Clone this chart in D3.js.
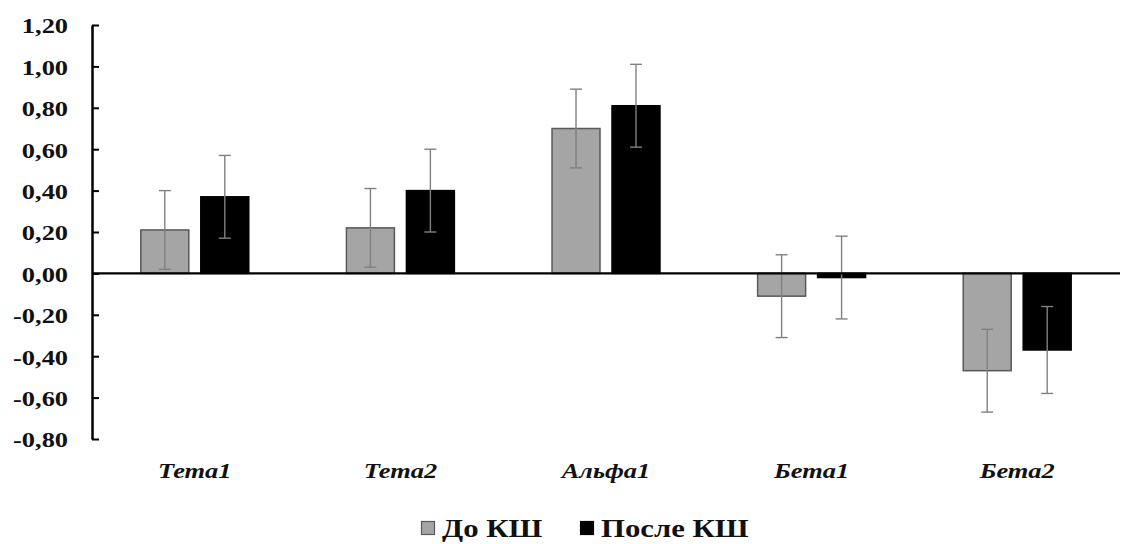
<!DOCTYPE html>
<html>
<head>
<meta charset="utf-8">
<script src="https://cdn.jsdelivr.net/npm/d3@7"></script>
<style>
  html, body { margin: 0; padding: 0; background: #fff; }
  svg { display: block; }
</style>
</head>
<body>
<svg id="chart" width="1131" height="544"></svg>
<script>
// Categories, series and values
const categories = ["Тета1", "Тета2", "Альфа1", "Бета1", "Бета2"];
const seriesNames = ["До КШ", "После КШ"];
const before = [0.21, 0.22, 0.70, -0.11, -0.47];
const after = [0.37, 0.40, 0.81, -0.02, -0.37];
const beforeErr = [0.19, 0.19, 0.19, 0.20, 0.20];
const afterErr = [0.20, 0.20, 0.20, 0.20, 0.21];
const yTicks = [-0.8, -0.6, -0.4, -0.2, 0, 0.2, 0.4, 0.6, 0.8, 1.0, 1.2];

const fills = ["#a5a5a5", "#000000"];
const strokes = ["#595959", "#000000"];
const stretch = 1.2; // horizontal stretch of the serif text

const svg = d3.select("#chart");
const plotLeft = 92, plotRight = 1120, plotTop = 25, plotBottom = 439;

const x0 = d3.scaleBand().domain(categories).range([plotLeft, plotRight])
  .paddingInner(0.475).paddingOuter(0.2375);
const x1 = d3.scaleBand().domain(seriesNames).range([0, x0.bandwidth()])
  .paddingInner(0.2);
const y = d3.scaleLinear().domain([-0.8, 1.2]).range([plotBottom, plotTop]);

const rows = categories.map((c, i) => ({
  cat: c,
  vals: [
    { s: seriesNames[0], v: before[i], e: beforeErr[i], k: 0 },
    { s: seriesNames[1], v: after[i], e: afterErr[i], k: 1 }
  ]
}));

// Bars
const groups = svg.append("g").selectAll("g").data(rows).join("g")
  .attr("transform", d => `translate(${x0(d.cat)},0)`);

groups.selectAll("rect").data(d => d.vals).join("rect")
  .attr("x", d => x1(d.s))
  .attr("width", x1.bandwidth())
  .attr("y", d => y(Math.max(0, d.v)))
  .attr("height", d => Math.abs(y(d.v) - y(0)))
  .attr("fill", d => fills[d.k])
  .attr("stroke", d => strokes[d.k])
  .attr("stroke-width", 1.5);

// Y axis
const yAxis = d3.axisLeft(y).tickValues(yTicks)
  .tickFormat(d => d3.format(".2f")(d).replace(".", ",").replace("−", "-"))
  .tickSizeInner(-7).tickSizeOuter(0).tickPadding(0);

const ya = svg.append("g").attr("transform", `translate(${plotLeft},0)`).call(yAxis);
ya.select(".domain").attr("stroke", "#000").attr("stroke-width", 2.5);
ya.selectAll(".tick line").attr("stroke", "#000").attr("stroke-width", 2);
ya.selectAll(".tick text")
  .attr("x", -24 / stretch)
  .attr("dy", "0.36em")
  .attr("transform", `scale(${stretch},1)`)
  .attr("font-family", "'Liberation Serif', 'Times New Roman', serif")
  .attr("font-weight", "bold")
  .attr("font-size", 22)
  .attr("fill", "#111");

// Zero baseline
svg.append("line")
  .attr("x1", plotLeft).attr("x2", plotRight)
  .attr("y1", y(0)).attr("y2", y(0))
  .attr("stroke", "#000").attr("stroke-width", 2.2);

// Error bars
const eb = groups.selectAll("g.err").data(d => d.vals).join("g")
  .attr("class", "err")
  .attr("stroke", "#808080").attr("stroke-width", 1.4);
const cap = 6;
eb.append("line")
  .attr("x1", d => x1(d.s) + x1.bandwidth() / 2)
  .attr("x2", d => x1(d.s) + x1.bandwidth() / 2)
  .attr("y1", d => y(d.v + d.e)).attr("y2", d => y(d.v - d.e));
eb.append("line")
  .attr("x1", d => x1(d.s) + x1.bandwidth() / 2 - cap)
  .attr("x2", d => x1(d.s) + x1.bandwidth() / 2 + cap)
  .attr("y1", d => y(d.v + d.e)).attr("y2", d => y(d.v + d.e));
eb.append("line")
  .attr("x1", d => x1(d.s) + x1.bandwidth() / 2 - cap)
  .attr("x2", d => x1(d.s) + x1.bandwidth() / 2 + cap)
  .attr("y1", d => y(d.v - d.e)).attr("y2", d => y(d.v - d.e));

// Category labels
svg.append("g").selectAll("g").data(categories).join("g")
  .attr("transform", d => `translate(${x0(d) + x0.bandwidth() / 2},478) scale(${stretch},1)`)
  .append("text")
  .attr("text-anchor", "middle")
  .attr("font-family", "'Liberation Serif', 'Times New Roman', serif")
  .attr("font-weight", "bold")
  .attr("font-style", "italic")
  .attr("font-size", 22)
  .attr("fill", "#111")
  .text(d => d);

// Legend
const legendX = [421, 580];
const legend = svg.append("g").selectAll("g").data(seriesNames).join("g")
  .attr("transform", (d, i) => `translate(${legendX[i]},521)`);
legend.append("rect")
  .attr("x", 0.5).attr("y", 0.5)
  .attr("width", 13).attr("height", 13)
  .attr("fill", (d, i) => fills[i])
  .attr("stroke", (d, i) => strokes[i])
  .attr("stroke-width", 1.2);
legend.append("g")
  .attr("transform", `translate(21,16) scale(${stretch + 0.03},1)`)
  .append("text")
  .attr("font-family", "'Liberation Serif', 'Times New Roman', serif")
  .attr("font-weight", "bold")
  .attr("font-size", 25)
  .attr("fill", "#111")
  .text(d => d);
</script>
</body>
</html>
